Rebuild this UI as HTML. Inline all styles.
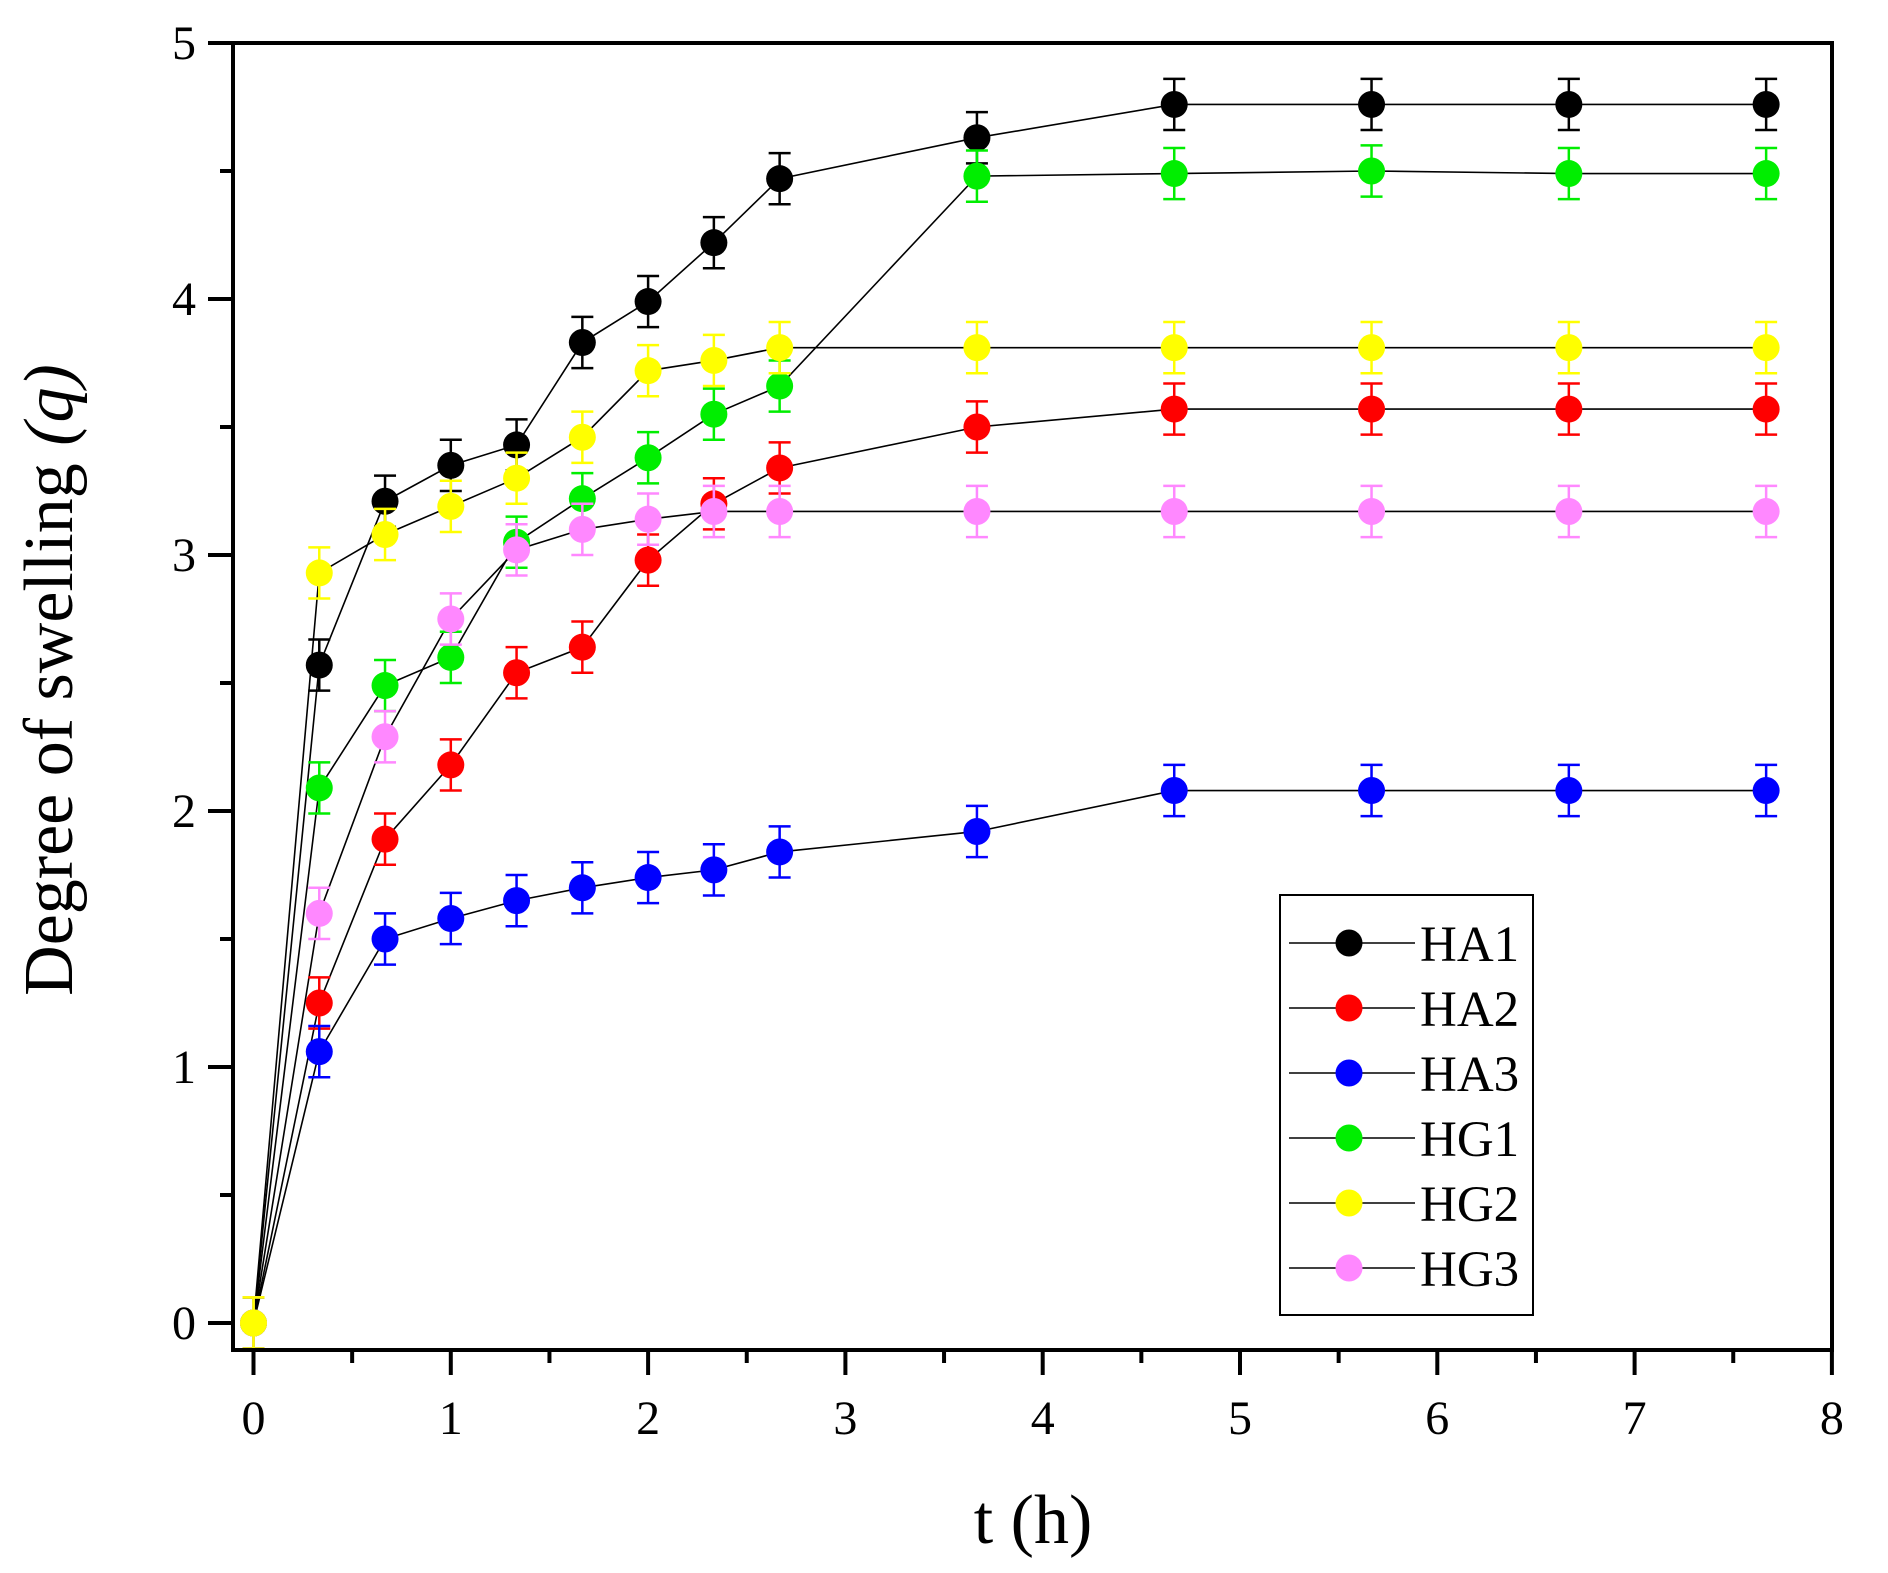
<!DOCTYPE html>
<html><head><meta charset="utf-8"><style>body{margin:0;background:#fff}svg{display:block}</style></head>
<body>
<svg id="s" xmlns="http://www.w3.org/2000/svg" width="1888" height="1573" viewBox="0 0 1888 1573" font-family="Liberation Serif, serif">
<rect width="1888" height="1573" fill="#fff"/>
</svg>
<script>
const s=document.getElementById('s');const NS='http://www.w3.org/2000/svg';
function el(t,a,txt){const e=document.createElementNS(NS,t);for(const k in a)e.setAttribute(k,a[k]);if(txt!==undefined)e.textContent=txt;s.appendChild(e);return e;}
const X=v=>253.5+v*197.3, Y=v=>1323-v*256;
const xs=[0,1/3,2/3,1,4/3,5/3,2,7/3,8/3,11/3,14/3,17/3,20/3,23/3];
const S=[
['HA1','#000',[0,2.57,3.21,3.35,3.43,3.83,3.99,4.22,4.47,4.63,4.76,4.76,4.76,4.76]],
['HA2','#f00',[0,1.25,1.89,2.18,2.54,2.64,2.98,3.2,3.34,3.5,3.57,3.57,3.57,3.57]],
['HA3','#00f',[0,1.06,1.5,1.58,1.65,1.7,1.74,1.77,1.84,1.92,2.08,2.08,2.08,2.08]],
['HG1','#0e0',[0,2.09,2.49,2.6,3.05,3.22,3.38,3.55,3.66,4.48,4.49,4.5,4.49,4.49]],
['HG2','#ff0',[0,2.93,3.08,3.19,3.3,3.46,3.72,3.76,3.81,3.81,3.81,3.81,3.81,3.81]],
['HG3','#f8f',[0,1.6,2.29,2.75,3.02,3.1,3.14,3.17,3.17,3.17,3.17,3.17,3.17,3.17]]];
function pt(x,y,c){const e=25.6;
el('path',{d:`M${x},${y-e}V${y+e}M${x-11},${y-e}H${x+11}M${x-11},${y+e}H${x+11}`,stroke:c,'stroke-width':2.5,fill:'none'});
el('circle',{cx:x,cy:y,r:13.5,fill:c});}
S.forEach(([n,c,d])=>{el('polyline',{points:d.map((v,i)=>X(xs[i])+','+Y(v)).join(' '),fill:'none',stroke:'#000','stroke-width':1.6});});
S.forEach(([n,c,d])=>{d.forEach((v,i)=>pt(X(xs[i]),Y(v),c));});
pt(X(0),Y(0),'#ff0');
// axes
el('rect',{x:233,y:43,width:1599,height:1307,fill:'none',stroke:'#000','stroke-width':4});
for(let i=0;i<=16;i++){const x=X(i/2),maj=i%2==0;el('line',{x1:x,y1:1350,x2:x,y2:maj?1375:1363,stroke:'#000','stroke-width':4});
if(maj)el('text',{x:x,y:1434,'font-size':48,'text-anchor':'middle'},String(i/2));}
for(let i=0;i<=10;i++){const y=Y(i/2),maj=i%2==0;el('line',{x1:233,y1:y,x2:maj?208:220,y2:y,stroke:'#000','stroke-width':4});
if(maj)el('text',{x:196,y:y+16,'font-size':48,'text-anchor':'end'},String(i/2));}
const t=el('text',{x:0,y:0,'font-size':70,'text-anchor':'middle',transform:'translate(72,680) rotate(-90)'},'Degree of swelling ');
const ts=document.createElementNS(NS,'tspan');ts.setAttribute('font-style','italic');ts.textContent='(q)';t.appendChild(ts);
el('text',{x:1033,y:1543,'font-size':70,'text-anchor':'middle'},'t (h)');
// legend
el('rect',{x:1280,y:895,width:253,height:420,fill:'#fff',stroke:'#000','stroke-width':2});
S.forEach(([n,c],i)=>{const y=943+i*65;el('line',{x1:1289,y1:y,x2:1415,y2:y,stroke:'#000','stroke-width':1.6});
el('circle',{cx:1349,cy:y,r:13.5,fill:c});el('text',{x:1420,y:y+18,'font-size':51},n);});
</script>
</body></html>
